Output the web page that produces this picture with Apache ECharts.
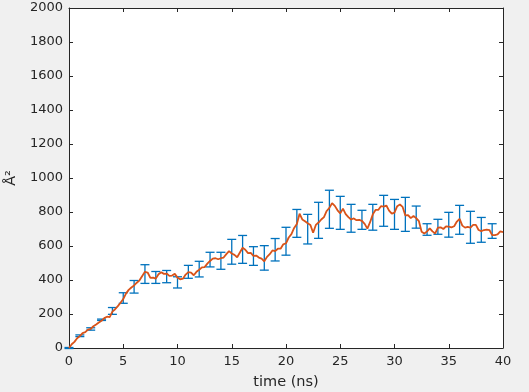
<!DOCTYPE html>
<html>
<head>
<meta charset="utf-8">
<script src="https://cdn.jsdelivr.net/npm/echarts@6/dist/echarts.min.js"></script>
<style>
html,body{margin:0;padding:0;background:#f0f0f0;}
#c{width:529px;height:392px;}
</style>
</head>
<body>
<div id="c"></div>
<script>
// time (ns) for the noisy orange trace
var lineX = [0,0.25,0.5,0.75,1,1.25,1.5,1.75,2,2.25,2.5,2.75,3,3.25,3.5,3.75,4,4.25,4.5,4.75,5,5.25,5.5,5.75,6,6.25,6.5,6.75,7,7.25,7.5,7.75,8,8.25,8.5,8.75,9,9.25,9.5,9.75,10,10.25,10.5,10.75,11,11.25,11.5,11.75,12,12.25,12.5,12.75,13,13.25,13.5,13.75,14,14.25,14.5,14.75,15,15.25,15.5,15.75,16,16.25,16.5,16.75,17,17.25,17.5,17.75,18,18.25,18.5,18.75,19,19.25,19.5,19.75,20,20.25,20.5,20.75,21,21.25,21.5,21.75,22,22.25,22.5,22.75,23,23.25,23.5,23.75,24,24.25,24.5,24.75,25,25.25,25.5,25.75,26,26.25,26.5,26.75,27,27.25,27.5,27.75,28,28.25,28.5,28.75,29,29.25,29.5,29.75,30,30.25,30.5,30.75,31,31.25,31.5,31.75,32,32.25,32.5,32.75,33,33.25,33.5,33.75,34,34.25,34.5,34.75,35,35.25,35.5,35.75,36,36.25,36.5,36.75,37,37.25,37.5,37.75,38,38.25,38.5,38.75,39,39.25,39.5,39.75,40];
var lineY = [0,22,36,57,70,88,93,108,112,128,138,150,160,176,184,182,214,228,246,266,288,320,342,356,368,384,398,424,448,444,412,414,408,434,446,436,438,424,426,436,414,404,408,432,446,444,428,448,460,474,476,496,512,526,528,522,528,532,552,570,556,548,534,562,590,578,558,560,542,544,532,526,510,536,552,574,570,584,584,610,616,650,670,706,730,790,756,746,734,724,678,724,738,756,770,806,824,852,836,810,792,820,788,770,756,762,752,754,748,730,702,740,786,812,812,834,832,838,808,790,796,834,844,830,780,782,764,776,764,746,684,674,686,704,686,674,708,710,700,716,714,710,716,744,760,720,708,712,708,724,724,694,688,694,696,694,664,664,668,686,682];
// error bars (blue)
var errX = [0,1,2,3,4,5,6,7,8,9,10,11,12,13,14,15,16,17,18,19,20,21,22,23,24,25,26,27,28,29,30,31,32,33,34,35,36,37,38,39];
var errMid = [0,72,112,166,218,294,360,435,415,420,386,448,464,520,513,566,580,541,530,578,628,733,699,751,816,795,763,754,769,807,786,786,770,697,713,725,754,710,695,688];
var errHalf = [3,5,7,4,20,31,37,55,35,36,33,38,46,43,50,73,82,55,72,66,82,82,87,106,112,97,82,56,76,91,88,100,65,34,44,73,85,94,73,43];
var xTicks = {min:0, max:40, interval:5};
var yTicks = {min:0, max:2000, interval:200};

var lineData = lineX.map(function(x,i){return [x, lineY[i]];});
var errData = errX.map(function(x,i){return [x, errMid[i]-errHalf[i], errMid[i]+errHalf[i]];});

var axisCol = '#262626';
var font = 'DejaVu Sans';
function fmt(v){return String(v);}
function xAx(pos, show){
  return {type:'value', position:pos, min:xTicks.min, max:xTicks.max, interval:xTicks.interval,
    axisLine:{show:true,onZero:false,lineStyle:{color:axisCol,width:1}},
    axisTick:{show:true,inside:true,length:4,lineStyle:{color:axisCol}},
    axisLabel:{show:show,color:axisCol,fontFamily:font,fontSize:13,margin:7,formatter:fmt},
    splitLine:{show:false},
    name: show ? 'time (ns)' : '', nameLocation:'middle', nameGap:27,
    nameTextStyle:{color:axisCol,fontFamily:font,fontSize:14.5}};
}
function yAx(pos, show){
  return {type:'value', position:pos, min:yTicks.min, max:yTicks.max, interval:yTicks.interval,
    axisLine:{show:true,onZero:false,lineStyle:{color:axisCol,width:1}},
    axisTick:{show:true,inside:true,length:4,lineStyle:{color:axisCol}},
    axisLabel:{show:show,color:axisCol,fontFamily:font,fontSize:13,margin:6,formatter:fmt},
    splitLine:{show:false},
    name: show ? 'Å²' : '', nameLocation:'middle', nameGap:41, nameRotate:90,
    nameTextStyle:{color:axisCol,fontFamily:font,fontSize:14.5}};
}

var chart = echarts.init(document.getElementById('c'), null, {renderer:'canvas'});
chart.setOption({
  backgroundColor:'#f0f0f0',
  animation:false,
  grid:{left:69,right:26,top:8,bottom:44,show:true,backgroundColor:'#ffffff',borderWidth:0,
        containLabel:false, outerBoundsMode:'none'},
  xAxis:[xAx('bottom',true), xAx('top',false)],
  yAxis:[yAx('left',true), yAx('right',false)],
  series:[
    {type:'custom', xAxisIndex:0, yAxisIndex:0, data:errData, z:2,
     renderItem:function(params, api){
       var x = api.value(0);
       var lo = api.coord([x, api.value(1)]);
       var hi = api.coord([x, api.value(2)]);
       var w = 4.5;
       var st = {stroke:'#0072BD', lineWidth:1.3};
       return {type:'group', children:[
         {type:'line', shape:{x1:lo[0],y1:lo[1],x2:hi[0],y2:hi[1]}, style:st},
         {type:'line', shape:{x1:lo[0]-w,y1:lo[1],x2:lo[0]+w,y2:lo[1]}, style:st},
         {type:'line', shape:{x1:hi[0]-w,y1:hi[1],x2:hi[0]+w,y2:hi[1]}, style:st}
       ]};
     }},
    {type:'line', xAxisIndex:0, yAxisIndex:0, data:lineData, showSymbol:false, z:3,
     lineStyle:{color:'#D95319', width:1.8}}
  ]
});
</script>
</body>
</html>
